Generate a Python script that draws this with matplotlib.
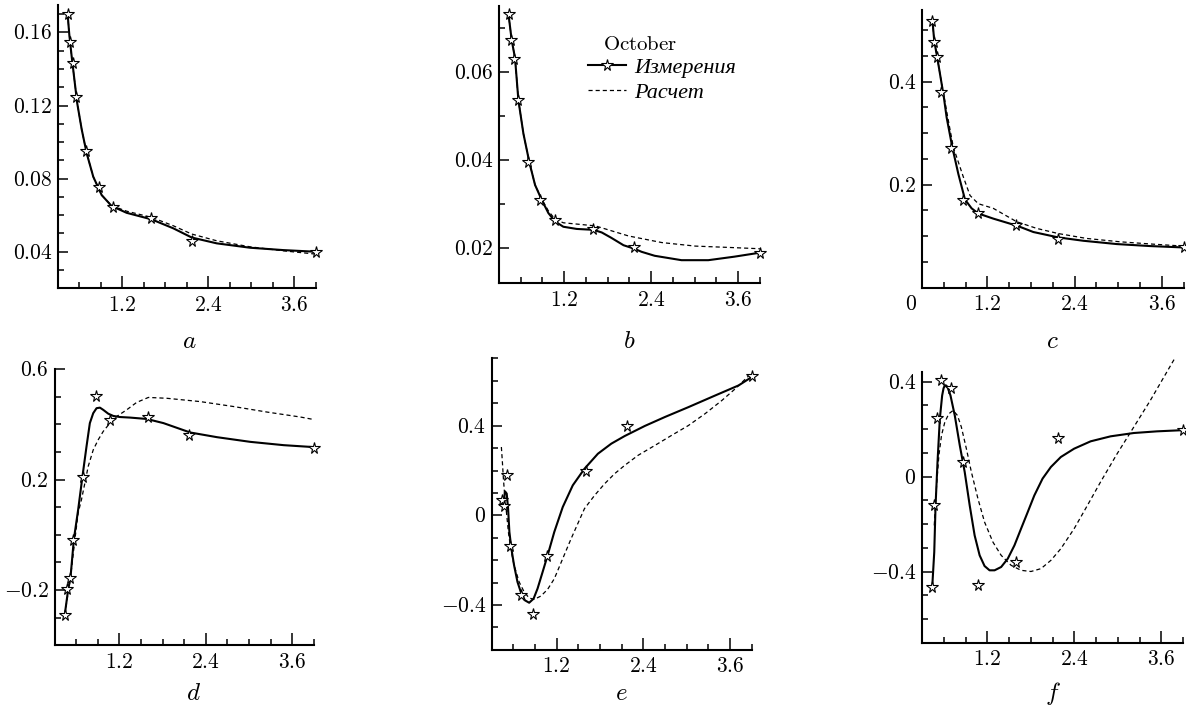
import matplotlib
matplotlib.use('Agg')
import matplotlib.pyplot as plt
from matplotlib.ticker import FixedLocator, FixedFormatter, MultipleLocator
from matplotlib.lines import Line2D
from matplotlib.transforms import blended_transform_factory

plt.rcParams['mathtext.fontset'] = 'cm'
plt.rcParams['font.family'] = ['Liberation Serif', 'DejaVu Serif']

# heights of the measurement points (same for every panel)
h = [0.44, 0.47, 0.51, 0.56, 0.70, 0.87, 1.07, 1.60, 2.17, 3.90]

# panel a
a_pts = [0.170, 0.1546, 0.143, 0.1245, 0.0953, 0.0756, 0.0643, 0.0583, 0.0459, 0.040]
a_fit_x = [0.437, 0.46, 0.493, 0.526, 0.572, 0.633, 0.702, 0.795, 0.912, 1.051, 1.26, 1.609, 1.912, 2.167, 2.516, 2.981, 3.447, 3.9]
a_fit_y = [0.170, 0.159, 0.147, 0.136, 0.121, 0.107, 0.094, 0.081, 0.071, 0.065, 0.0613, 0.0577, 0.0528, 0.0478, 0.0446, 0.0422, 0.0409, 0.040]
a_calc_x = [0.437, 0.46, 0.493, 0.526, 0.572, 0.633, 0.702, 0.795, 0.912, 1.051, 1.26, 1.609, 1.912, 2.167, 2.516, 2.981, 3.447, 3.9]
a_calc_y = [0.170, 0.159, 0.147, 0.136, 0.121, 0.107, 0.094, 0.081, 0.071, 0.0652, 0.0622, 0.0588, 0.0542, 0.0497, 0.046, 0.0427, 0.0405, 0.0387]

# panel b
b_pts = [0.0732, 0.0673, 0.0631, 0.0537, 0.0395, 0.031, 0.0264, 0.0243, 0.0202, 0.019]
b_fit_x = [0.432, 0.478, 0.524, 0.57, 0.639, 0.722, 0.80, 0.892, 0.984, 1.076, 1.19, 1.375, 1.49, 1.605, 1.72, 1.85, 2.02, 2.17, 2.27, 2.45, 2.82, 3.19, 3.55, 3.9]
b_fit_y = [0.0734, 0.0673, 0.0632, 0.0537, 0.0461, 0.0395, 0.0344, 0.031, 0.028, 0.0261, 0.0249, 0.0244, 0.0243, 0.0242, 0.0236, 0.0224, 0.0207, 0.0199, 0.0192, 0.0183, 0.0173, 0.0173, 0.0181, 0.019]
b_calc_x = [0.432, 0.478, 0.524, 0.57, 0.639, 0.722, 0.80, 0.892, 0.984, 1.076, 1.19, 1.63, 2.09, 2.55, 3.01, 3.47, 3.9]
b_calc_y = [0.0734, 0.0673, 0.0632, 0.0537, 0.0461, 0.0395, 0.0344, 0.0312, 0.0285, 0.0266, 0.0258, 0.0251, 0.0228, 0.0213, 0.0205, 0.0202, 0.0199]

# panel c
c_pts = [0.518, 0.477, 0.449, 0.381, 0.272, 0.170, 0.144, 0.121, 0.094, 0.079]
c_fit_x = [0.445, 0.47, 0.51, 0.555, 0.6, 0.64, 0.718, 0.801, 0.893, 0.984, 1.076, 1.283, 1.613, 1.833, 2.177, 2.521, 2.98, 3.439, 3.9]
c_fit_y = [0.519, 0.479, 0.448, 0.41, 0.372, 0.331, 0.273, 0.221, 0.171, 0.154, 0.144, 0.134, 0.120, 0.108, 0.0975, 0.091, 0.0846, 0.0807, 0.078]
c_calc_x = [0.445, 0.47, 0.51, 0.555, 0.6, 0.65, 0.732, 0.87, 0.962, 1.076, 1.282, 1.604, 1.88, 2.177, 2.567, 3.025, 3.483, 3.9]
c_calc_y = [0.519, 0.479, 0.448, 0.41, 0.375, 0.335, 0.273, 0.215, 0.179, 0.163, 0.154, 0.128, 0.115, 0.105, 0.0955, 0.089, 0.0844, 0.0806]

# panel d
d_pts = [-0.29, -0.197, -0.158, -0.02, 0.21, 0.505, 0.415, 0.428, 0.363, 0.314]
d_fit_x = [0.443, 0.49, 0.522, 0.569, 0.629, 0.689, 0.745, 0.791, 0.838, 0.884, 0.931, 0.977, 1.047, 1.116, 1.209, 1.349, 1.581, 1.813, 2.184, 2.556, 3.02, 3.484, 3.9]
d_fit_y = [-0.288, -0.198, -0.155, -0.016, 0.092, 0.213, 0.321, 0.405, 0.441, 0.459, 0.461, 0.453, 0.439, 0.431, 0.427, 0.425, 0.42, 0.405, 0.371, 0.354, 0.337, 0.325, 0.318]
d_calc_x = [0.443, 0.522, 0.583, 0.629, 0.675, 0.722, 0.768, 0.838, 0.908, 0.977, 1.07, 1.163, 1.302, 1.441, 1.604, 1.859, 2.323, 2.788, 3.252, 3.716, 3.9]
d_calc_y = [-0.288, -0.155, -0.017, 0.08, 0.128, 0.188, 0.248, 0.308, 0.345, 0.375, 0.405, 0.429, 0.453, 0.48, 0.498, 0.495, 0.483, 0.465, 0.445, 0.427, 0.418]

# panel e
e_pts = [0.067, 0.043, 0.18, -0.137, -0.354, -0.439, -0.183, 0.196, 0.40, 0.623]
e_fit_x = [0.457, 0.485, 0.508, 0.527, 0.545, 0.573, 0.61, 0.657, 0.703, 0.759, 0.819, 0.88, 0.935, 1.005, 1.075, 1.167, 1.284, 1.423, 1.585, 1.771, 1.957, 2.142, 2.421, 2.70, 3.025, 3.396, 3.721, 3.9]
e_fit_y = [0.045, 0.107, 0.097, 0.03, -0.074, -0.149, -0.223, -0.297, -0.342, -0.379, -0.39, -0.372, -0.327, -0.253, -0.178, -0.074, 0.037, 0.134, 0.208, 0.275, 0.32, 0.354, 0.399, 0.439, 0.483, 0.535, 0.58, 0.617]
e_calc_x = [0.434, 0.448, 0.462, 0.48, 0.504, 0.531, 0.564, 0.61, 0.68, 0.75, 0.819, 0.889, 0.982, 1.075, 1.167, 1.284, 1.40, 1.585, 1.725, 1.864, 2.003, 2.142, 2.328, 2.56, 2.792, 3.025, 3.257, 3.489, 3.674, 3.9]
e_calc_y = [0.305, 0.238, 0.164, 0.089, 0.015, -0.074, -0.149, -0.223, -0.297, -0.342, -0.369, -0.375, -0.36, -0.33, -0.283, -0.193, -0.104, 0.03, 0.089, 0.141, 0.186, 0.223, 0.268, 0.312, 0.357, 0.401, 0.454, 0.513, 0.565, 0.635]

# panel f
f_pts = [-0.464, -0.12, 0.249, 0.408, 0.374, 0.06, -0.455, -0.36, 0.161, 0.196]
f_fit_x = [0.441, 0.469, 0.487, 0.514, 0.546, 0.578, 0.597, 0.615, 0.633, 0.651, 0.693, 0.752, 0.821, 0.889, 0.958, 1.026, 1.095, 1.163, 1.232, 1.301, 1.392, 1.483, 1.575, 1.666, 1.758, 1.849, 1.963, 2.078, 2.215, 2.398, 2.626, 2.901, 3.221, 3.541, 3.9]
f_fit_y = [-0.465, -0.317, -0.121, 0.062, 0.244, 0.342, 0.372, 0.385, 0.384, 0.378, 0.342, 0.258, 0.132, 0.02, -0.121, -0.247, -0.331, -0.376, -0.394, -0.394, -0.38, -0.345, -0.289, -0.219, -0.149, -0.079, -0.008, 0.041, 0.083, 0.118, 0.149, 0.17, 0.184, 0.191, 0.196]
f_calc_x = [0.469, 0.501, 0.533, 0.569, 0.615, 0.67, 0.729, 0.789, 0.843, 0.912, 0.981, 1.072, 1.163, 1.278, 1.392, 1.529, 1.666, 1.803, 1.941, 2.078, 2.215, 2.398, 2.581, 2.763, 2.992, 3.221, 3.449, 3.78]
f_calc_y = [-0.205, -0.037, 0.09, 0.174, 0.23, 0.265, 0.279, 0.258, 0.209, 0.118, 0.02, -0.093, -0.191, -0.275, -0.331, -0.373, -0.394, -0.399, -0.387, -0.352, -0.303, -0.219, -0.121, -0.022, 0.097, 0.209, 0.321, 0.495]

x_major = [1.2, 2.4, 3.6]
x_major_labels = ['$1.2$', '$2.4$', '$3.6$']

W, H = 1186, 708
fig = plt.figure(figsize=(W / 100, H / 100), dpi=100)


def add_panel(l, t, r, b):
    return fig.add_axes([l / W, 1 - b / H, (r - l) / W, (b - t) / H])


panels = [
    # box(px), ylim, y major ticks, y labels, minor step, letter, letter x/y, pts, fit, calc
    ((57.8, 5.0, 315.9, 288.3), (0.02, 0.175), [0.04, 0.08, 0.12, 0.16],
     ['$0.04$', '$0.08$', '$0.12$', '$0.16$'], 0.01, 'a', 0.51, 0.508,
     a_pts, (a_fit_x, a_fit_y), (a_calc_x, a_calc_y)),
    ((498.8, 6.3, 759.8, 283.5), (0.012, 0.075), [0.02, 0.04, 0.06],
     ['$0.02$', '$0.04$', '$0.06$'], 0.01, 'b', 0.5, 0.508,
     b_pts, (b_fit_x, b_fit_y), (b_calc_x, b_calc_y)),
    ((921.9, 9.7, 1183.6, 287.6), (0.0, 0.54), [0.2, 0.4],
     ['$0.2$', '$0.4$'], 0.05, 'c', 0.5, 0.508,
     c_pts, (c_fit_x, c_fit_y), (c_calc_x, c_calc_y)),
    ((54.5, 369.3, 313.7, 645.2), (-0.4, 0.6), [-0.2, 0.2, 0.6],
     ['$-0.2$', '$0.2$', '$0.6$'], 0.1, 'd', 0.535, 0.011,
     d_pts, (d_fit_x, d_fit_y), (d_calc_x, d_calc_y)),
    ((491.7, 358.5, 751.6, 649.8), (-0.6, 0.7), [-0.4, 0.0, 0.4],
     ['$-0.4$', '$0$', '$0.4$'], 0.1, 'e', 0.5, 0.011,
     e_pts, (e_fit_x, e_fit_y), (e_calc_x, e_calc_y)),
    ((922.0, 372.2, 1183.0, 643.0), (-0.7, 0.44), [-0.4, 0.0, 0.4],
     ['$-0.4$', '$0$', '$0.4$'], 0.1, 'f', 0.5, 0.011,
     f_pts, (f_fit_x, f_fit_y), (f_calc_x, f_calc_y)),
]

axes = []
for box, ylim, yt, ylab, ystep, letter, lx, ly, pts, fit, calc in panels:
    ax = add_panel(*box)
    axes.append(ax)
    ax.set_xlim(0.3, 3.9)
    ax.set_ylim(*ylim)
    for s in ['top', 'right']:
        ax.spines[s].set_visible(False)
    for s in ['left', 'bottom']:
        ax.spines[s].set_linewidth(1.5)
    ax.xaxis.set_major_locator(FixedLocator(x_major))
    ax.xaxis.set_major_formatter(FixedFormatter(x_major_labels))
    ax.xaxis.set_minor_locator(MultipleLocator(0.3))
    ax.yaxis.set_major_locator(FixedLocator(yt))
    ax.yaxis.set_major_formatter(FixedFormatter(ylab))
    ax.yaxis.set_minor_locator(MultipleLocator(ystep))
    ax.tick_params(which='both', direction='in', width=1.1, labelsize=15.5)
    ax.tick_params(axis='x', which='major', length=8.6, pad=6)
    ax.tick_params(axis='x', which='minor', length=4.3)
    ax.tick_params(axis='y', which='major', length=7.5, pad=4)
    ax.tick_params(axis='y', which='minor', length=4.5)

    ax.plot(calc[0], calc[1], color='black', lw=0.9, dashes=(3.3, 2.4),
            clip_on=(letter != 'f'))
    ax.plot(fit[0], fit[1], color='black', lw=1.5, solid_joinstyle='round')
    ax.plot(h, pts, linestyle='none', marker='*', ms=8.5, mfc='white',
            mec='black', mew=0.8, zorder=5, clip_on=False)
    tr = blended_transform_factory(ax.transAxes, fig.transFigure)
    ax.text(lx, ly, '$' + letter + '$', transform=tr,
            ha='center', va='baseline', fontsize=18)

# stray "0" under panel c
axes[2].annotate('$0$', xy=(0.3, 0), xycoords=('data', 'axes fraction'),
                 xytext=(-3.5, -6), textcoords='offset points',
                 ha='right', va='top', fontsize=15.5)

# legend in panel b
ax = axes[1]
ax.text(0.54, 0.86, r'$\mathrm{October}$', transform=ax.transAxes,
        ha='center', va='center', fontsize=15)
h_meas = Line2D([], [], color='black', lw=1.5, marker='*', ms=8.5, mfc='white',
                mec='black', mew=0.8)
h_calc = Line2D([], [], color='black', lw=0.9, dashes=(3.3, 2.4))
ax.legend([h_meas, h_calc], ['Измерения', 'Расчет'], loc='upper left',
          bbox_to_anchor=(0.341, 0.815), frameon=False, borderpad=0,
          borderaxespad=0, handlelength=1.7, handletextpad=0.4,
          labelspacing=0.2, numpoints=1,
          prop={'family': 'Liberation Serif', 'style': 'italic', 'size': 16})

fig.savefig('out.png', dpi=100)
